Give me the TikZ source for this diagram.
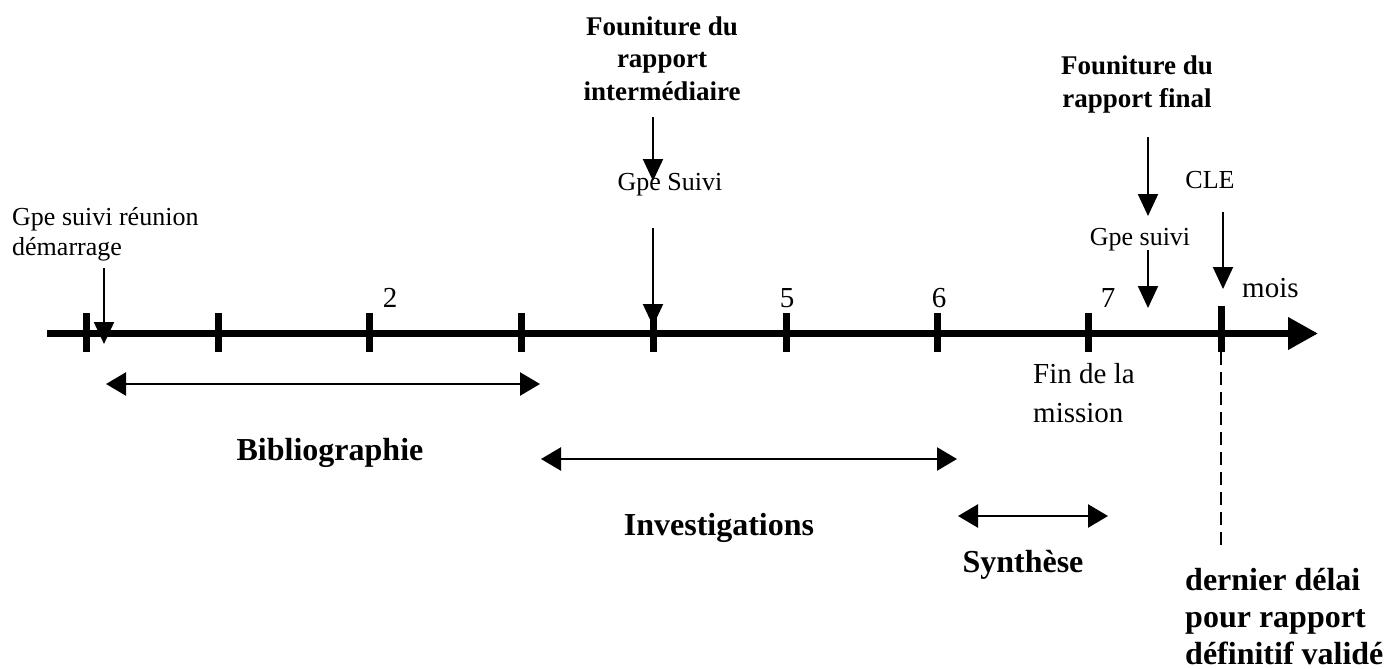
\documentclass[tikz,border=0pt]{standalone}
\usepackage{fontspec}
\setmainfont{Liberation Serif}
\usetikzlibrary{arrows.meta}
\begin{document}
\begin{tikzpicture}[x=1pt,y=-1pt,
  small/.style={font=\fontsize{26}{30}\selectfont, inner sep=0pt},
  mid/.style={font=\fontsize{29}{39}\selectfont, inner sep=0pt},
  title/.style={font=\bfseries\fontsize{27}{32.5}\selectfont, inner sep=0pt, align=center},
  phase/.style={font=\bfseries\fontsize{32}{37}\selectfont, inner sep=0pt},
  tickmark/.style={line width=7pt},
  axisline/.style={line width=7pt, -{Triangle[length=30pt,width=31pt]}},
  downarrow/.style={line width=2pt, -{Triangle[length=22pt,width=20pt]}},
  span/.style={line width=2.5pt, {Triangle[length=20pt,width=23pt]}-{Triangle[length=20pt,width=23pt]}},
  deadline/.style={line width=2.5pt, dash pattern=on 13pt off 7pt}
]
\useasboundingbox (0,0) rectangle (1387,669);

% axis
\coordinate (axL) at (47,333.5);
\coordinate (axR) at (1318,333.5);
\draw[axisline] (axL) -- (axR);
\foreach \x in {86,218,369,521,653,786,937,1088} {
  \draw[tickmark] (\x,313) -- (\x,352);
}
\draw[tickmark] (1221,306) -- (1221,352);

% month numbers
\node[mid, anchor=base] (n2) at (390,307) {2};
\node[mid, anchor=base] (n5) at (787,307) {5};
\node[mid, anchor=base] (n6) at (939,307) {6};
\node[mid, anchor=base] (n7) at (1108,307) {7};
\node[mid, anchor=base west] (mois) at (1242,297) {mois};

% start meeting
\node[small, anchor=base west, align=left] (start) at (12,255) {Gpe suivi réunion\\démarrage};
\coordinate (s1a) at (104,268);
\coordinate (s1b) at (104,344);
\draw[downarrow] (s1a) -- (s1b);

% intermediate report
\node[title, anchor=base] (inter) at (662,100) {Founiture du\\rapport\\intermédiaire};
\node[small, anchor=base] (gs1) at (670,190) {Gpe Suivi};
\coordinate (i1a) at (653,117);
\coordinate (i1b) at (653,181);
\coordinate (i2a) at (653,228);
\coordinate (i2b) at (653,326);
\draw[downarrow] (i1a) -- (i1b);
\draw[downarrow] (i2a) -- (i2b);

% final report
\node[title, anchor=base] (final) at (1137,107) {Founiture du\\rapport final};
\node[small, anchor=base] (gs2) at (1140,245) {Gpe suivi};
\coordinate (f1a) at (1148,137);
\coordinate (f1b) at (1148,216);
\coordinate (f2a) at (1148,250);
\coordinate (f2b) at (1148,308);
\draw[downarrow] (f1a) -- (f1b);
\draw[downarrow] (f2a) -- (f2b);

% CLE
\node[small, anchor=base] (cle) at (1210,188) {CLE};
\coordinate (c1a) at (1223,212);
\coordinate (c1b) at (1223,289);
\draw[downarrow] (c1a) -- (c1b);

% end of mission
\node[mid, anchor=base west, align=left] (fin) at (1033,422) {Fin de la\\mission};

% phases
\coordinate (b1) at (106,384);
\coordinate (b2) at (540,384);
\draw[span] (b1) -- (b2);
\node[phase, anchor=base] (biblio) at (330,460) {Bibliographie};

\coordinate (v1) at (541,459);
\coordinate (v2) at (957,459);
\draw[span] (v1) -- (v2);
\node[phase, anchor=base] (invest) at (719,535) {Investigations};

\coordinate (y1) at (958,516);
\coordinate (y2) at (1108,516);
\draw[span] (y1) -- (y2);
\node[phase, anchor=base] (synth) at (1023,572) {Synthèse};

% deadline
\coordinate (d1) at (1221,352);
\coordinate (d2) at (1221,552);
\draw[deadline] (d1) -- (d2);
\node[phase, anchor=base west, align=left] (dern) at (1185,664) {dernier délai\\pour rapport\\définitif validé};
\end{tikzpicture}
\end{document}
